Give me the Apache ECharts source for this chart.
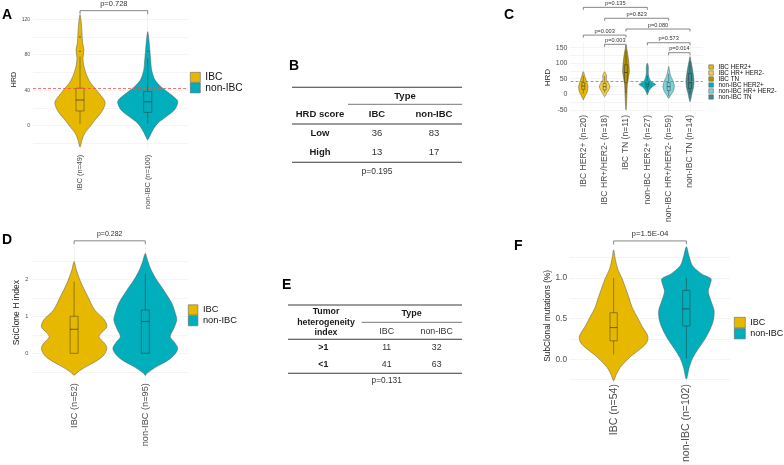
<!DOCTYPE html>
<html><head><meta charset="utf-8">
<script src="https://cdn.jsdelivr.net/npm/echarts@6/dist/echarts.min.js"></script>
<style>html,body{margin:0;padding:0;background:#fff}#c{width:784px;height:465px}</style>
</head><body><div id="c"></div>
<script>
const FONT = "'Liberation Sans', Arial, Helvetica, sans-serif";
const COL_IBC = '#E7B800', COL_NON = '#00AFBB';

// ---------- Panel A : HRD by type ----------
const catsA = ['IBC (n=49)', 'non-IBC (n=100)'];
const yLabelsA = [0, 40, 80, 120];
const yGridA = [-20, 0, 20, 40, 60, 80, 100, 120];
const hrdA_IBC_y = [-24, -16, -8.7, -1, 6.4, 14, 21.5, 27, 32.8, 40, 48, 57, 66.8, 76, 85.7, 93, 104.5, 119.6, 125];
const hrdA_IBC_d = [0, 0.067, 0.156, 0.333, 0.5, 0.689, 0.811, 0.833, 0.722, 0.556, 0.356, 0.222, 0.133, 0.1, 0.133, 0.089, 0.067, 0.033, 0];
const hrdA_NON_y = [-16, -12.5, -5, 2.6, 10, 17.7, 25.3, 29, 36.6, 44, 51.7, 63, 74, 85.7, 97, 106];
const hrdA_NON_d = [0, 0.06, 0.17, 0.33, 0.61, 0.89, 1, 0.98, 0.72, 0.44, 0.24, 0.13, 0.1, 0.07, 0.04, 0];
const boxA = [[2, 16.6, 29, 42.3, 78], [2.6, 15, 27, 38.5, 76]];
const outliersA = [[84, 100], [84]];
const bracketA = [[1, 2, 129.7]];
const pA = ['p=0.728'];
const hrdCut = 42;

// ---------- Panel B : HRD score table ----------
const tblB_head = ['HRD score', 'IBC', 'non-IBC'];
const tblB_rows = ['Low', 'High'];
const tblB_vals = [[36, 83], [13, 17]];
const tblB_p = 'p=0.195';

// ---------- Panel C : HRD by subtype ----------
const catsC = ['IBC HER2+ (n=20)', 'IBC HR+/HER2- (n=18)', 'IBC TN (n=11)', 'non-IBC HER2+ (n=27)', 'non-IBC HR+/HER2- (n=59)', 'non-IBC TN (n=14)'];
const groupsC = ['IBC HER2+', 'IBC HR+ HER2-', 'IBC TN', 'non-IBC HER2+', 'non-IBC HR+ HER2-', 'non-IBC TN'];
const colorsC = ['#E7B800', '#F5CE45', '#B39200', '#00AFBB', '#7DD3DA', '#3B8A90'];
const yLabelsC = [-50, 0, 50, 100, 150];
const yGridC = [-50, -25, 0, 25, 50, 75, 100, 125, 150];
const hrdC_y = [
  [-18, -12.8, -2, 8.6, 24.6, 40.7, 56.7, 72.8],
  [-7.5, 3.2, 14, 24.6, 35, 48, 59, 67, 72.8],
  [-50, -23.5, 3.2, 30, 51, 72.8, 94, 115.6, 142, 158],
  [-2, 3.2, 14, 24.6, 32, 40.7, 51, 67, 89, 99.5],
  [-12.8, -2, 8.6, 24.6, 40.7, 56.7, 72.8, 89],
  [-23.5, -12.8, 3.2, 19.3, 40.7, 62, 83.5, 105, 121]
];
const hrdC_d = [
  [0, 0.08, 0.28, 0.48, 0.56, 0.4, 0.2, 0],
  [0, 0.24, 0.48, 0.64, 0.48, 0.2, 0.24, 0.12, 0],
  [0, 0.08, 0.12, 0.16, 0.28, 0.4, 0.36, 0.28, 0.12, 0],
  [0, 0.08, 0.24, 0.6, 1, 0.48, 0.24, 0.12, 0.12, 0],
  [0, 0.24, 0.52, 0.68, 0.56, 0.28, 0.12, 0],
  [0, 0.12, 0.24, 0.4, 0.48, 0.4, 0.28, 0.12, 0]
];
const boxC = [[2, 16, 26.8, 37.5, 60], [5, 14, 24.6, 35, 59], [3, 38, 70, 95, 140], [8, 24.6, 32, 40.7, 60], [-5, 11.8, 24.6, 37.5, 65], [0, 19, 37.5, 67, 105]];
const bracketC = [[1, 4, 279], [2, 5, 244], [3, 6, 209.5], [1, 3, 190], [4, 6, 165.5], [2, 3, 160.4], [5, 6, 133.5]];
const pC = ['p=0.135', 'p=0.823', 'p=0.080', 'p=0.003', 'p=0.573', 'p=0.003', 'p=0.014'];

// ---------- Panel D : SciClone H index ----------
const catsD = ['IBC (n=52)', 'non-IBC (n=95)'];
const yLabelsD = [0, 1, 2];
const yGridD = [-0.5, 0, 0.5, 1, 1.5, 2, 2.5];
const shD_IBC_y = [-0.59, -0.5, -0.36, -0.18, -0.045, 0.135, 0.27, 0.45, 0.6, 0.72, 0.9, 1.17, 1.53, 1.89, 2.25, 2.48];
const shD_IBC_d = [0, 0.12, 0.37, 0.73, 0.91, 1, 0.93, 0.76, 0.89, 1, 0.93, 0.63, 0.42, 0.22, 0.07, 0];
const shD_NON_y = [-0.6, -0.54, -0.36, -0.18, -0.02, 0.135, 0.3, 0.45, 0.65, 0.9, 1.1, 1.35, 1.71, 1.98, 2.25, 2.48, 2.7];
const shD_NON_d = [0, 0.05, 0.35, 0.71, 0.91, 0.99, 0.89, 0.76, 0.86, 0.96, 0.91, 0.81, 0.56, 0.35, 0.18, 0.08, 0];
const boxD = [[0, 0, 0.65, 1.0, 1.94], [0, 0, 0.86, 1.17, 2.16]];
const bracketD = [[1, 2, 3.04]];
const pD = ['p=0.282'];

// ---------- Panel E : heterogeneity table ----------
const tblE_head = ['Tumor\nheterogeneity\nindex', 'IBC', 'non-IBC'];
const tblE_rows = ['>1', '<1'];
const tblE_vals = [[11, 32], [41, 63]];
const tblE_p = 'p=0.131';

// ---------- Panel F : subclonal mutations ----------
const catsF = ['IBC (n=54)', 'non-IBC (n=102)'];
const yLabelsF = [0, 0.5, 1.0];
const yGridF = [-0.25, 0, 0.25, 0.5, 0.75, 1.0, 1.25];
const scF_IBC_y = [-0.263, -0.184, -0.106, -0.027, 0.05, 0.13, 0.208, 0.286, 0.40, 0.52, 0.64, 0.757, 0.875, 0.99, 1.11, 1.23, 1.345];
const scF_IBC_d = [0, 0.08, 0.18, 0.35, 0.54, 0.79, 0.97, 1, 0.84, 0.69, 0.54, 0.45, 0.35, 0.25, 0.12, 0.05, 0];
const scF_NON_y = [-0.243, -0.106, 0.012, 0.13, 0.247, 0.365, 0.48, 0.6, 0.718, 0.835, 0.914, 0.99, 1.05, 1.15, 1.267, 1.384];
const scF_NON_d = [0, 0.08, 0.18, 0.35, 0.54, 0.69, 0.79, 0.81, 0.72, 0.64, 0.69, 0.72, 0.45, 0.18, 0.08, 0];
const boxF = [[0.06, 0.227, 0.39, 0.573, 1.0], [0.01, 0.41, 0.62, 0.847, 1.0]];
const bracketF = [[1, 2, 1.456]];
const pF = ['p=1.5E-04'];

// ================= builders =================
function violin(name, gi, pos, ys, ds, box, color, halfMax, boxHalf, extra) {
  return Object.assign({
    type: 'custom', name, xAxisIndex: gi, yAxisIndex: gi, silent: true,
    itemStyle: { color },
    data: [[pos, box[2]]],
    renderItem: (params, api) => {
      const L = ys.map((y, i) => api.coord([pos - ds[i] * halfMax, y]));
      const R = [];
      for (let i = ys.length - 2; i >= 1; i--) R.push(api.coord([pos + ds[i] * halfMax, ys[i]]));
      const b = box.map(v => api.coord([pos, v])[1]);
      const xl = api.coord([pos - boxHalf, 0])[0], xr = api.coord([pos + boxHalf, 0])[0], xc = api.coord([pos, 0])[0];
      const ln = { stroke: '#333', lineWidth: 0.6, opacity: 0.8, fill: null };
      return { type: 'group', children: [
        { type: 'polygon', shape: { points: L.concat(R), smooth: 0.3 }, style: { fill: color, stroke: '#5a5a5a', lineWidth: 0.5 } },
        { type: 'line', shape: { x1: xc, y1: b[0], x2: xc, y2: b[1] }, style: ln },
        { type: 'line', shape: { x1: xc, y1: b[3], x2: xc, y2: b[4] }, style: ln },
        { type: 'rect', shape: { x: xl, y: b[3], width: xr - xl, height: b[1] - b[3] }, style: ln },
        { type: 'line', shape: { x1: xl, y1: b[2], x2: xr, y2: b[2] }, style: Object.assign({}, ln, { lineWidth: 0.9 }) }
      ] };
    }
  }, extra || {});
}
function brackets(gi, rows, labels, leg, gap, fs) {
  return {
    type: 'custom', xAxisIndex: gi, yAxisIndex: gi, silent: true,
    data: rows, encode: { x: [0, 1], y: 2 },
    renderItem: (params, api) => {
      const p1 = api.coord([api.value(0), api.value(2)]);
      const p2 = api.coord([api.value(1), api.value(2)]);
      return { type: 'group', children: [
        { type: 'polyline', shape: { points: [[p1[0], p1[1] + leg], p1, p2, [p2[0], p2[1] + leg]] }, style: { stroke: '#6a6a6a', lineWidth: 0.8, fill: null } },
        { type: 'text', style: { text: labels[params.dataIndex], x: (p1[0] + p2[0]) / 2, y: p1[1] - gap, align: 'center', verticalAlign: 'bottom', fontSize: fs, fontFamily: FONT, fill: '#333' } }
      ] };
    }
  };
}
function xAx(gi, cats, min, max, fs, margin) {
  const pos = cats.map((c, i) => i + 1);
  return { type: 'value', gridIndex: gi, min, max,
    axisLine: { show: false }, axisTick: { show: false, customValues: pos },
    axisLabel: { customValues: pos, formatter: v => cats[Math.round(v) - 1], rotate: 90, fontSize: fs, color: '#4d4d4d', margin, fontFamily: FONT },
    splitLine: { show: true, lineStyle: { color: '#ececec', width: 0.6 } } };
}
function yAx(gi, min, max, labels, grid, fs, name, nameFs, nameGap, fmt) {
  return { type: 'value', gridIndex: gi, min, max,
    axisLine: { show: false }, axisTick: { show: false, customValues: grid },
    axisLabel: { customValues: labels, fontSize: fs, color: '#4d4d4d', margin: 3, fontFamily: FONT, formatter: fmt || (v => String(v)) },
    splitLine: { show: true, lineStyle: { color: '#ececec', width: 0.6 } },
    name, nameLocation: 'middle', nameGap, nameTextStyle: { fontSize: nameFs, color: '#222', fontFamily: FONT } };
}
function lg(left, top, names, w, h, fs) {
  return { left, top, orient: 'vertical', padding: 0, itemGap: 0, itemWidth: w, itemHeight: h, selectedMode: false,
    data: names.map(n => ({ name: n, icon: 'rect' })),
    itemStyle: { borderColor: '#666', borderWidth: 0.6 },
    textStyle: { fontSize: fs, lineHeight: h, color: '#111', fontFamily: FONT } };
}
function txt(text, x, y, fs, bold, extra) {
  return { type: 'text', silent: true, style: Object.assign({ text, x, y, align: 'center', verticalAlign: 'middle', fontSize: fs, fontWeight: bold ? 'bold' : 'normal', fontFamily: FONT, fill: '#1a1a1a' }, extra || {}) };
}
function rule(x1, x2, y, w, c) {
  return { type: 'line', silent: true, shape: { x1, y1: y, x2, y2: y }, style: { stroke: c || '#3a3a3a', lineWidth: w || 1.1 } };
}

// ================= graphics (letters + tables) =================
const g = [];
[['A', 2, 15.5], ['B', 289, 66], ['C', 504, 15], ['D', 2, 240], ['E', 282, 285], ['F', 514, 246]].forEach(l =>
  g.push(txt(l[0], l[1], l[2], 14, true, { align: 'left', fill: '#000' })));
// table B
g.push(rule(292, 462, 87.3), rule(348, 462, 104.3, 1, '#777'), rule(292, 462, 124), rule(292, 462, 162.3));
g.push(txt('Type', 405, 96, 9.5, true));
[320, 377, 434].forEach((x, i) => g.push(txt(tblB_head[i], x, 114, 9.5, true)));
[133.3, 152.3].forEach((y, r) => {
  g.push(txt(tblB_rows[r], 320, y, 9.5, true));
  tblB_vals[r].forEach((v, c) => g.push(txt(String(v), [377, 434][c], y, 9.5, false, { fill: '#333' })));
});
g.push(txt(tblB_p, 377, 171.7, 8.5, false, { fill: '#333' }));
// table E
g.push(rule(288, 462, 305), rule(361.7, 462, 322.3, 1, '#777'), rule(288, 462, 339.3), rule(288, 462, 373.3));
g.push(txt(tblE_head[0], 326, 322.3, 8.8, true, { lineHeight: 10.5 }));
g.push(txt('Type', 411.7, 314, 9, true));
g.push(txt(tblE_head[1], 386.7, 331.7, 8.8, false, { fill: '#333' }), txt(tblE_head[2], 436.7, 331.7, 8.8, false, { fill: '#333' }));
[347.7, 364.3].forEach((y, r) => {
  g.push(txt(tblE_rows[r], 323.3, y, 8.8, true));
  tblE_vals[r].forEach((v, c) => g.push(txt(String(v), [386.7, 436.7][c], y, 8.8, false, { fill: '#333' })));
});
g.push(txt(tblE_p, 386.7, 381, 8.3, false, { fill: '#333' }));

// ================= option =================
const cutLine = { silent: true, symbol: 'none', label: { show: false }, lineStyle: { color: '#F25050', type: [3, 2], width: 0.8 }, data: [{ yAxis: hrdCut }] };
const series = [
  violin('IBC', 0, 1, hrdA_IBC_y, hrdA_IBC_d, boxA[0], COL_IBC, 0.443, 0.06, { markLine: cutLine }),
  violin('non-IBC', 0, 2, hrdA_NON_y, hrdA_NON_d, boxA[1], COL_NON, 0.443, 0.06),
  { type: 'scatter', xAxisIndex: 0, yAxisIndex: 0, silent: true, symbolSize: 1.6, itemStyle: { color: '#333' },
    data: outliersA.flatMap((arr, i) => arr.map(v => [i + 1, v])) },
  brackets(0, bracketA, pA, 3.5, 2.5, 7.5),
  ...groupsC.map((n, i) => violin(n, 1, i + 1, hrdC_y[i], hrdC_d[i], boxC[i], colorsC[i], 0.39, 0.07, i === 0 ? { markLine: cutLine } : null)),
  brackets(1, bracketC, pC, 2.5, 0.8, 5.6),
  violin('IBC', 2, 1, shD_IBC_y, shD_IBC_d, boxD[0], COL_IBC, 0.46, 0.056),
  violin('non-IBC', 2, 2, shD_NON_y, shD_NON_d, boxD[1], COL_NON, 0.46, 0.056),
  brackets(2, bracketD, pD, 3.5, 3, 7),
  violin('IBC', 3, 1, scF_IBC_y, scF_IBC_d, boxF[0], COL_IBC, 0.47, 0.05),
  violin('non-IBC', 3, 2, scF_NON_y, scF_NON_d, boxF[1], COL_NON, 0.47, 0.05),
  brackets(3, bracketF, pF, 3.5, 3, 8)
];

const option = {
  backgroundColor: '#fff',
  animation: false,
  textStyle: { fontFamily: FONT },
  grid: [
    { left: 33, top: 10.4, width: 155, height: 138.35 },
    { left: 570.5, top: 42.9, width: 132.3, height: 69.5 },
    { left: 31.4, top: 246, width: 156.6, height: 133.2 },
    { left: 570, top: 249.55, width: 160, height: 138.55 }
  ],
  xAxis: [
    xAx(0, catsA, 0.306, 2.595, 7.3, 6),
    xAx(1, catsC, 0.4, 6.6, 8.6, 2.6),
    xAx(2, catsD, 0.4, 2.6, 9.2, 4),
    xAx(3, catsF, 0.4, 2.6, 10.5, 2)
  ],
  yAxis: [
    yAx(0, -26, 130, yLabelsA, yGridA, 5, 'HRD', 7, 12),
    yAx(1, -58, 165, yLabelsC, yGridC, 7, 'HRD', 8, 14.5),
    yAx(2, -0.7, 2.9, yLabelsD, yGridD, 5.5, 'SciClone H index', 8.5, 8),
    yAx(3, -0.28, 1.35, yLabelsF, yGridF, 8.3, 'SubClonal mutations (%)', 8.3, 16, v => v.toFixed(1))
  ],
  legend: [
    lg(190, 72, ['IBC', 'non-IBC'], 10, 10, 10.2),
    lg(708.5, 64, groupsC, 4.6, 4.4, 6.3),
    lg(188, 304.5, ['IBC', 'non-IBC'], 9.6, 10.2, 9.3),
    lg(734, 317, ['IBC', 'non-IBC'], 11, 10.5, 9)
  ],
  graphic: { elements: g },
  series
};
const chart = echarts.init(document.getElementById('c'));
chart.setOption(option);
</script></body></html>
